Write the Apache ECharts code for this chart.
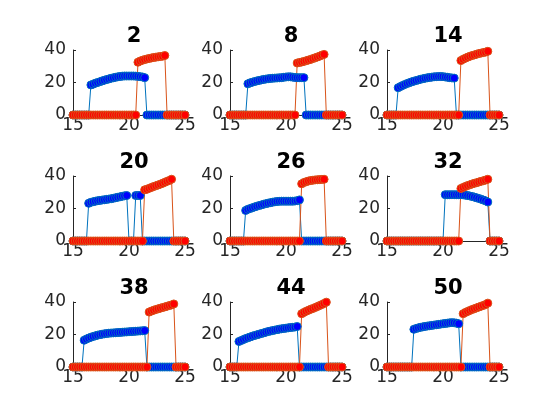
<!DOCTYPE html>
<html>
<head>
<meta charset="utf-8">
<script src="https://cdn.jsdelivr.net/npm/echarts@6/dist/echarts.min.js"></script>
<style>
  html, body { margin: 0; padding: 0; background: #fff; }
  #myChart { width: 560px; height: 420px; }
</style>
</head>
<body>
<div id="myChart"></div>
<script>
// sample positions (same for every panel)
var xs = [15, 15.2, 15.4, 15.6, 15.8, 16, 16.2, 16.4, 16.6, 16.8, 17, 17.2, 17.4, 17.6, 17.8,
  18, 18.2, 18.4, 18.6, 18.8, 19, 19.2, 19.4, 19.6, 19.8, 20, 20.2, 20.4, 20.6, 20.8,
  21, 21.2, 21.4, 21.6, 21.8, 22, 22.2, 22.4, 22.6, 22.8, 23, 23.2, 23.4, 23.6, 23.8,
  24, 24.2, 24.4, 24.6, 24.8, 25];

var titles = ["2", "8", "14", "20", "26", "32", "38", "44", "50"];
var xTicks = [15, 20, 25];
var yTicks = [0, 20, 40];

// blue series: value is 0 everywhere except from blueStart on
var blueStart = [16.6, 16.6, 16.0, 16.4, 16.4, 20.2, 16.0, 15.8, 17.4];
var blueVals = [
  [18.5, 19, 19.6, 20, 20.5, 21, 21.4, 21.8, 22.2, 22.6, 22.9, 23.2, 23.5, 23.7, 23.9, 24, 24, 24, 24, 24, 23.9, 23.8, 23.6, 23.4, 23],
  [19.2, 19.8, 20.2, 20.6, 21, 21.3, 21.6, 21.9, 22.1, 22.3, 22.5, 22.6, 22.7, 22.8, 22.9, 23, 23.2, 23.4, 23.5, 23.5, 23.3, 23.1, 23, 23, 23, 23],
  [16.8, 17.5, 18.2, 18.8, 19.4, 19.9, 20.4, 20.8, 21.2, 21.6, 22, 22.3, 22.6, 22.9, 23.1, 23.3, 23.5, 23.6, 23.7, 23.7, 23.6, 23.4, 23.2, 23, 22.8, 22.7],
  [23.2, 23.8, 24.2, 24.5, 24.8, 25, 25.2, 25.4, 25.6, 25.8, 26, 26.3, 26.6, 26.9, 27.2, 27.5, 27.8, 28, 0, 0, 0, 28, 28, 28],
  [18.8, 19.5, 20, 20.5, 21, 21.4, 21.8, 22.2, 22.6, 23, 23.3, 23.6, 23.9, 24.1, 24.3, 24.4, 24.5, 24.5, 24.5, 24.5, 24.5, 24.5, 24.6, 24.8, 25.3],
  [28.5, 28.5, 28.5, 28.5, 28.5, 28.5, 28.5, 28.5, 28.4, 28.2, 28, 27.7, 27.4, 27, 26.6, 26.2, 25.7, 25.2, 24.7, 24],
  [16.5, 17.2, 17.8, 18.3, 18.8, 19.2, 19.6, 19.9, 20.2, 20.4, 20.6, 20.8, 20.9, 21, 21.1, 21.2, 21.3, 21.4, 21.5, 21.6, 21.7, 21.8, 21.9, 22, 22.1, 22.2, 22.3, 22.4],
  [15.7, 16.3, 16.9, 17.5, 18, 18.5, 19, 19.4, 19.8, 20.2, 20.6, 21, 21.4, 21.8, 22.1, 22.4, 22.7, 23, 23.3, 23.5, 23.7, 23.9, 24.1, 24.3, 24.4, 24.6, 24.9],
  [23.2, 23.7, 24.1, 24.4, 24.7, 25, 25.2, 25.4, 25.6, 25.8, 26, 26.2, 26.4, 26.6, 26.8, 27, 27.2, 27.3, 27.2, 27, 26.6]
];

// red series: same idea
var redStart = [20.8, 21.0, 21.6, 21.4, 21.4, 21.6, 21.8, 21.4, 21.8];
var redVals = [
  [32.5, 33.2, 33.7, 34.1, 34.5, 34.8, 35.1, 35.4, 35.6, 35.8, 36, 36.2, 36.6],
  [32, 32.3, 32.6, 33, 33.4, 33.8, 34.2, 34.7, 35.2, 35.7, 36.2, 36.8, 37.3],
  [33.5, 34.3, 35, 35.6, 36.1, 36.6, 37, 37.4, 37.8, 38.1, 38.4, 38.7, 39.2],
  [31.5, 31.8, 32.4, 33, 33.5, 34, 34.5, 35, 35.5, 36.1, 36.7, 37.3, 38],
  [35.2, 36, 36.5, 36.9, 37.2, 37.4, 37.6, 37.7, 37.8, 37.9, 38],
  [32.3, 33, 33.6, 34.1, 34.6, 35.1, 35.5, 35.9, 36.3, 36.7, 37.1, 37.5, 38],
  [33.8, 34.4, 34.9, 35.4, 35.8, 36.2, 36.6, 37, 37.4, 37.8, 38.2, 38.8],
  [32.8, 33.6, 34.3, 34.9, 35.5, 36, 36.6, 37.2, 37.8, 38.4, 39.1, 39.9],
  [32.8, 33.6, 34.2, 34.8, 35.4, 35.9, 36.4, 36.9, 37.4, 37.9, 38.4, 39.3]
];

var colLeft = [73, 230, 387];
var rowTop = [50, 176, 302];

function buildData(start, vals) {
  var s = Math.round((start - 15) / 0.2);
  return xs.map(function (x, k) {
    var v = (k >= s && k < s + vals.length) ? vals[k - s] : 0;
    return [x, v];
  });
}

var myChart = echarts.init(document.getElementById("myChart"), null, { renderer: "canvas" });

var grids = [], xAxes = [], yAxes = [], series = [], titleList = [];
var font = "DejaVu Sans";

for (var i = 0; i < 9; i++) {
  var gLeft = colLeft[i % 3];
  var gTop = rowTop[Math.floor(i / 3)];
  grids.push({ left: gLeft, top: gTop, width: 112, height: 65 });

  xAxes.push({
    gridIndex: i, type: "value", min: xTicks[0], max: xTicks[2], interval: 5,
    axisLine: { show: true, lineStyle: { color: "#262626", width: 1 } },
    axisTick: { show: true, inside: true, length: 3, lineStyle: { color: "#262626" } },
    axisLabel: { show: true, margin: 2, fontSize: 17, color: "#262626", fontFamily: font, showMinLabel: true, showMaxLabel: true },
    splitLine: { show: false }
  });
  yAxes.push({
    gridIndex: i, type: "value", min: yTicks[0], max: yTicks[2], interval: 20,
    axisLine: { show: true, lineStyle: { color: "#262626", width: 1 } },
    axisTick: { show: true, inside: true, length: 3, lineStyle: { color: "#262626" } },
    axisLabel: { show: true, margin: 7, fontSize: 17, color: "#262626", fontFamily: font },
    splitLine: { show: false }
  });

  titleList.push({
    text: titles[i], left: gLeft + 56, top: gTop - 29, textAlign: "center",
    textStyle: { fontSize: 21, fontWeight: "bold", color: "#000", fontFamily: font }
  });

  // blue first, red on top
  series.push({
    type: "line", xAxisIndex: i, yAxisIndex: i, clip: false, silent: true,
    data: buildData(blueStart[i], blueVals[i]),
    symbol: "circle", symbolSize: 8, showAllSymbol: true,
    lineStyle: { color: "#0072BD", width: 1 },
    itemStyle: { color: "#0000FF", borderColor: "#0072BD", borderWidth: 1 }
  });
  series.push({
    type: "line", xAxisIndex: i, yAxisIndex: i, clip: false, silent: true,
    data: buildData(redStart[i], redVals[i]),
    symbol: "circle", symbolSize: 8, showAllSymbol: true,
    lineStyle: { color: "#D95319", width: 1 },
    itemStyle: { color: "#FF0000", borderColor: "#D95319", borderWidth: 1 }
  });
}

var option = {
  animation: false,
  backgroundColor: "#fff",
  title: titleList,
  grid: grids,
  xAxis: xAxes,
  yAxis: yAxes,
  series: series
};
myChart.setOption(option);
</script>
</body>
</html>
